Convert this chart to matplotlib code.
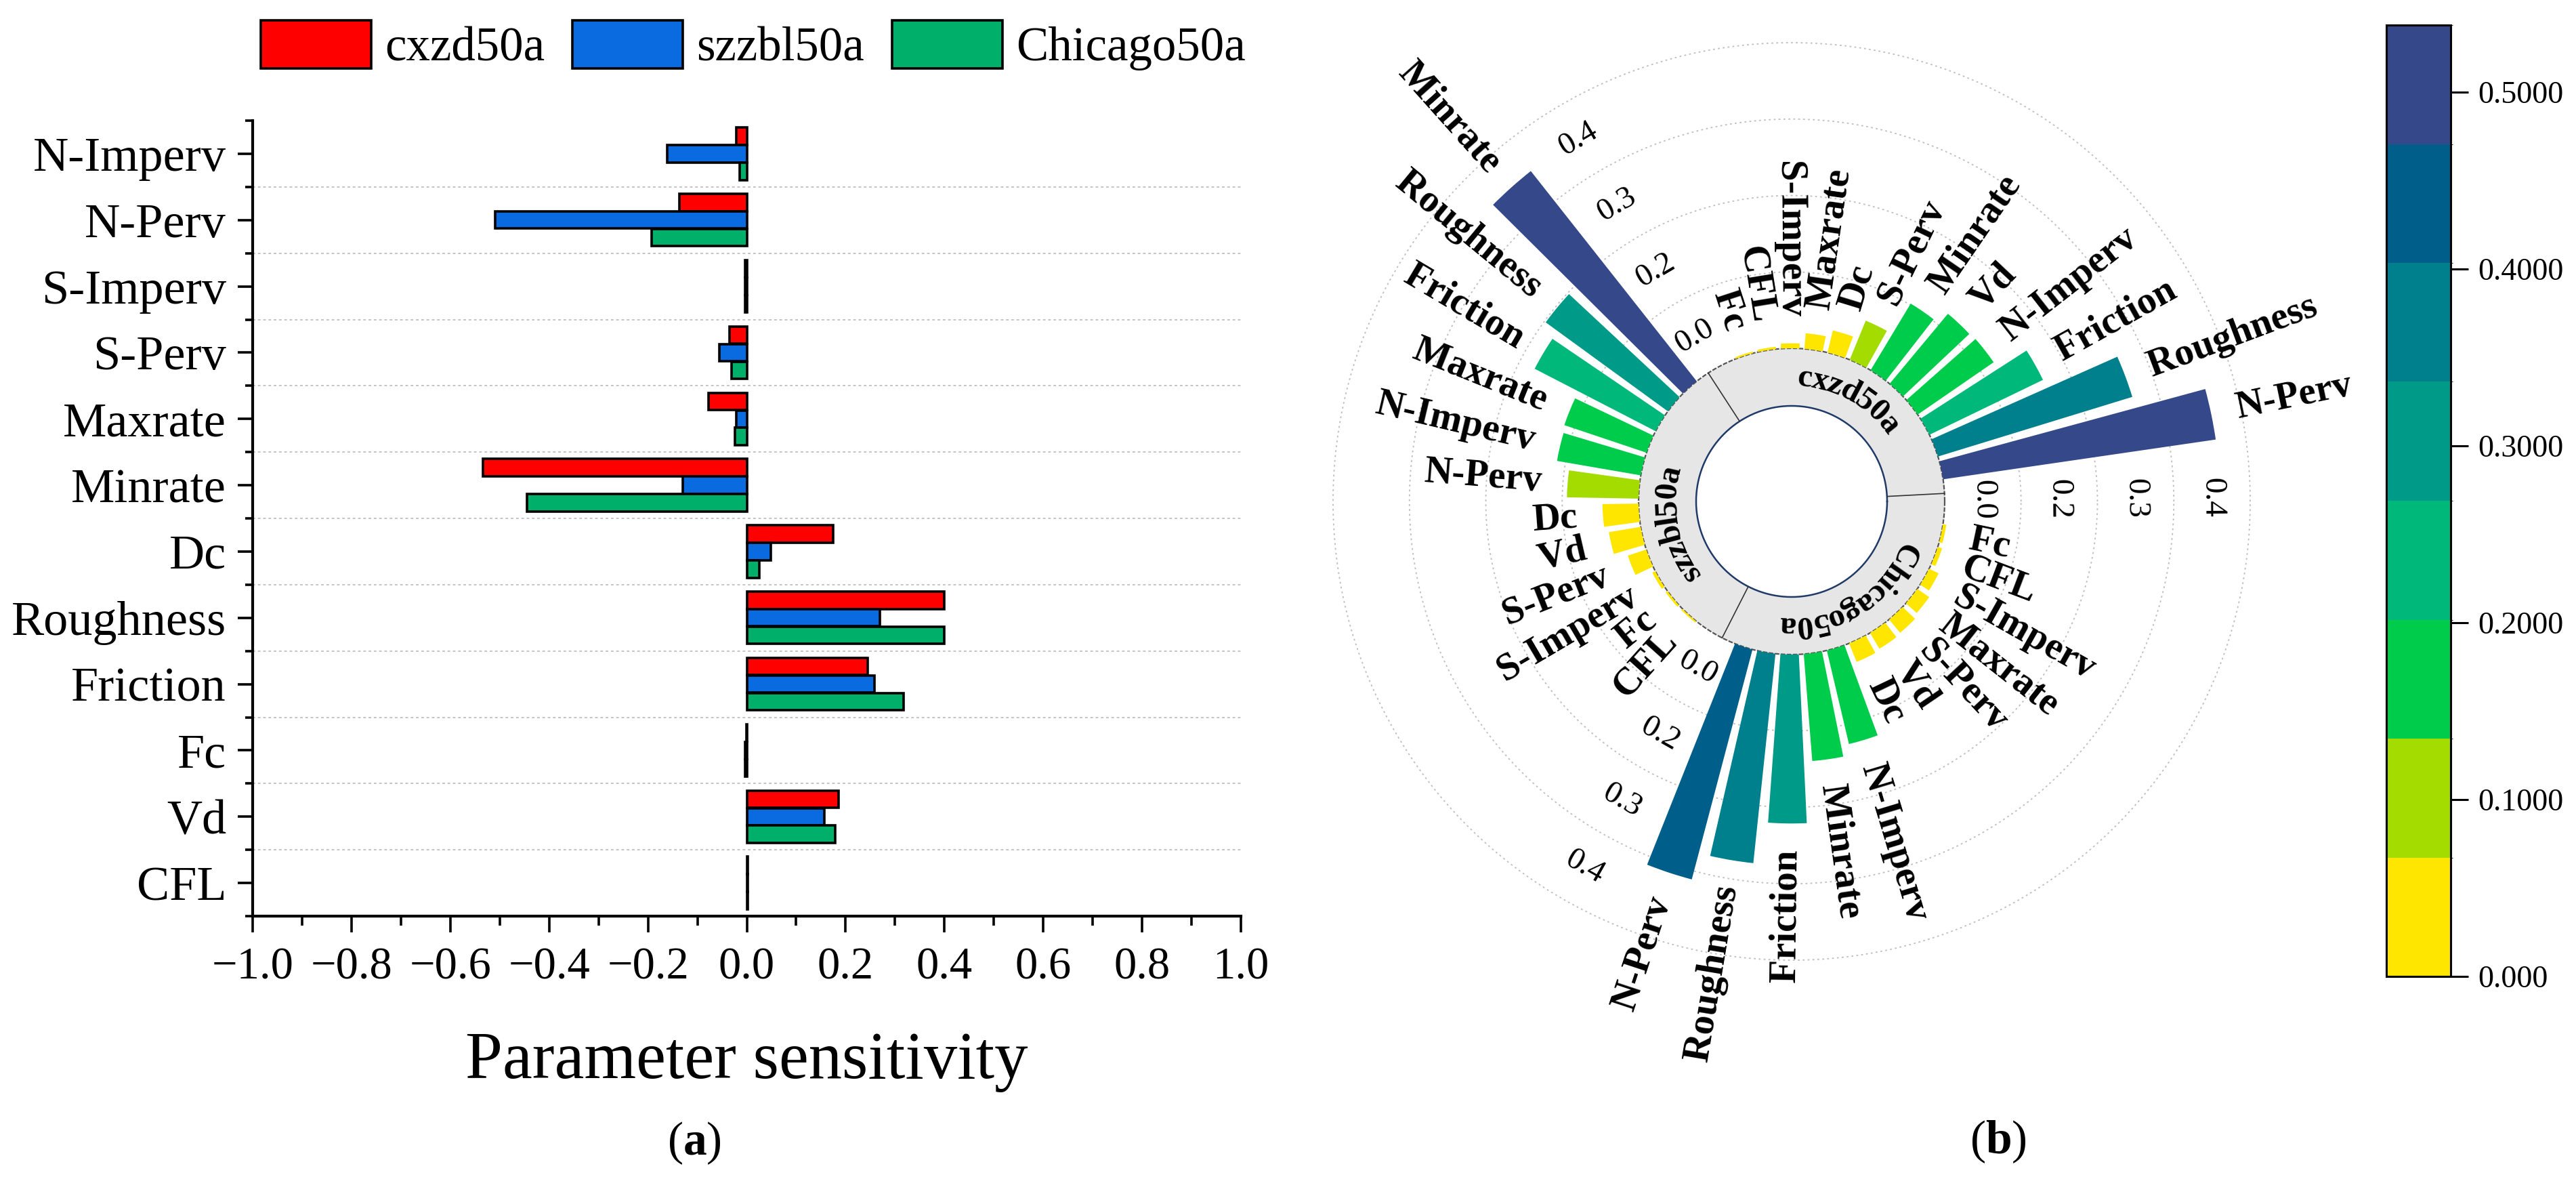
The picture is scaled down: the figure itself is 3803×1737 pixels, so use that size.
import numpy as np
import matplotlib
import matplotlib.pyplot as plt
from matplotlib.colors import ListedColormap, BoundaryNorm
from matplotlib.colorbar import ColorbarBase
from matplotlib.font_manager import FontProperties, findfont, get_font

plt.rcParams['font.family'] = ['Liberation Serif', 'DejaVu Serif']
plt.rcParams['mathtext.fontset'] = 'custom'
plt.rcParams['mathtext.rm'] = 'Liberation Serif'
plt.rcParams['mathtext.bf'] = 'Liberation Serif:bold'

# ---------------- panel (a): grouped horizontal bars ----------------
params = ["N-Imperv", "N-Perv", "S-Imperv", "S-Perv", "Maxrate", "Minrate",
          "Dc", "Roughness", "Friction", "Fc", "Vd", "CFL"]
cxzd50a = [-0.021, -0.137, -0.003, -0.035, -0.078, -0.534,
           0.175, 0.399, 0.245, -0.001, 0.186, 0.002]
szzbl50a = [-0.161, -0.509, -0.003, -0.056, -0.021, -0.129,
            0.049, 0.270, 0.259, -0.003, 0.157, 0.002]
chicago50a = [-0.014, -0.193, -0.003, -0.031, -0.024, -0.445,
              0.025, 0.399, 0.317, -0.003, 0.179, 0.002]
series_names = ["cxzd50a", "szzbl50a", "Chicago50a"]
series_colors = ["#FF0000", "#0A6BE0", "#00AF6A"]

# ---------------- panel (b): circular bars ----------------
sector_names = ["cxzd50a", "szzbl50a", "Chicago50a"]
cxzd_params = ["N-Perv", "Roughness", "Friction", "N-Imperv", "Vd", "Minrate",
               "S-Perv", "Dc", "Maxrate", "S-Imperv", "CFL", "Fc"]
cxzd_vals = [0.496, 0.366, 0.227, 0.166, 0.164, 0.140,
             0.076, 0.041, 0.028, 0.009, 0.004, 0.003]
szzbl_params = ["Minrate", "Roughness", "Friction", "Maxrate", "N-Imperv", "N-Perv",
                "Dc", "Vd", "S-Perv", "S-Imperv", "Fc", "CFL"]
szzbl_vals = [0.482, 0.272, 0.245, 0.156, 0.153, 0.129,
              0.065, 0.058, 0.035, 0.006, 0.004, 0.003]
chicago_params = ["N-Perv", "Roughness", "Friction", "Minrate", "N-Imperv", "Dc",
                  "Vd", "S-Perv", "Maxrate", "S-Imperv", "CFL", "Fc"]
chicago_vals = [0.428, 0.379, 0.304, 0.193, 0.173, 0.036,
                0.033, 0.031, 0.026, 0.019, 0.008, 0.006]
level_colors = ["#FFE600", "#A4DC00", "#00CC4C", "#00B87A",
                "#009A88", "#00808C", "#005F8A", "#35488A"]
cbar_max = 0.538
cbar_ticks = [0.0, 0.1, 0.2, 0.3, 0.4, 0.5]
cbar_labels = ["0.000", "0.1000", "0.2000", "0.3000", "0.4000", "0.5000"]
rtick_labels = ["0.0", "0.2", "0.3", "0.4"]

W, H = 3803, 1737
fig = plt.figure(figsize=(W / 100, H / 100), dpi=100)

# ---- (a)
ax = fig.add_axes([373 / W, 1 - 1352 / H, (1832 - 373) / W, (1352 - 178) / H])
y = np.arange(len(params))
for i, (vals, col, name) in enumerate(zip([cxzd50a, szzbl50a, chicago50a], series_colors, series_names)):
    ax.barh(y + (i - 1) * 0.265, vals, height=0.26, color=col, edgecolor="black",
            linewidth=2.6, label=name, zorder=3)
for b in np.arange(0.5, len(params) - 1):
    ax.axhline(b, color="#C4C4C4", ls=(0, (2, 2)), lw=1.4, zorder=1)
ax.set_xlim(-1, 1)
ax.set_ylim(len(params) - 0.5, -0.5)
ax.set_yticks(y)
ax.set_yticklabels(params)
ax.set_yticks(np.arange(-0.5, len(params)), minor=True)
xt = np.round(np.linspace(-1, 1, 11), 1)
ax.set_xticks(xt)
ax.set_xticklabels([("\u2212" if v < 0 else "") + f"{abs(v):.1f}" for v in xt])
ax.set_xticks(np.round(np.linspace(-1, 1, 21), 2), minor=True)
for s in ["top", "right"]:
    ax.spines[s].set_visible(False)
for s in ["left", "bottom"]:
    ax.spines[s].set_linewidth(3)
ax.tick_params(axis="y", which="major", length=16, width=2.6, labelsize=52, pad=12)
ax.tick_params(axis="y", which="minor", length=8, width=2.6)
ax.tick_params(axis="x", which="major", length=17, width=2.6, labelsize=48, pad=16)
ax.tick_params(axis="x", which="minor", length=10, width=2.6)
fig.text(1102 / W, 1 - 1591 / H, "Parameter sensitivity", fontsize=71, ha="center", va="baseline")
fig.text(1025 / W, 1 - 1704 / H, r"($\mathbf{a}$)", fontsize=50, ha="center", va="baseline")
h, l = ax.get_legend_handles_labels()
fig.legend(h, l, loc="center", bbox_to_anchor=(1112 / W, 1 - 67 / H), ncol=3, frameon=False,
           fontsize=51, handlelength=2.3, handleheight=1.17, handletextpad=0.28,
           columnspacing=0.58, borderpad=0)

# ---- (b)
cmap = ListedColormap(level_colors)
levels = np.linspace(0, cbar_max, len(level_colors) + 1)
norm = BoundaryNorm(levels, cmap.N)

cx, cy, R = 2645, 740, 685.2
hole, rmax = 0.2756, 0.56
pax = fig.add_axes([(cx - R) / W, 1 - (cy + R) / H, 2 * R / W, 2 * R / H], projection="polar")
pax.set_ylim(-hole, rmax)
pax.set_xticks([])
pax.set_yticks([])
pax.grid(False)
pax.spines["polar"].set_visible(False)
pax.patch.set_alpha(0)
k = R / (rmax + hole)  # pixels per data unit

full = np.linspace(0, 2 * np.pi, 721)
for g in np.linspace(0, 0.55, 5)[1:]:
    pax.plot(full, np.full_like(full, g), color="#BDBDBD", ls=(0, (1.5, 2.5)), lw=1.3, zorder=0)

r_white = 141 / k - hole
pax.fill_between(full, r_white, 0, color="#E6E6E6", lw=0, zorder=2)
pax.plot(full, np.zeros_like(full), color="#555555", lw=1.6, ls=(0, (3, 1)), zorder=3)
pax.plot(full, np.full_like(full, r_white), color="#1F3A68", lw=1.8, zorder=3)

starts = [3, 123, 243]
slot = 8.75
for s in starts:
    pax.plot([np.deg2rad(s)] * 2, [r_white, 0], color="#333333", lw=1.2, zorder=3)

groups = [(cxzd_params, cxzd_vals), (szzbl_params, szzbl_vals), (chicago_params, chicago_vals)]
for s, (names, vals) in zip(starts, groups):
    ang = s + slot * (np.arange(len(vals)) + 1)
    th = np.deg2rad(ang)
    pax.bar(th, vals, width=np.deg2rad(6.9), bottom=0, color=cmap(norm(vals)), lw=0, zorder=4)
    for a, t, v, n in zip(ang, th, vals, names):
        if 90 < a % 360 < 270:
            rot, ha = a - 180, "right"
        else:
            rot, ha = a, "left"
        pax.text(t, v + 0.046, n, rotation=rot, rotation_mode="anchor", ha=ha, va="center",
                 fontsize=41, fontweight="bold", zorder=5)
    # radial scale labels at the end of each sector
    ta = s + 117.5
    rot = ta - 90
    if 90 < rot % 360 < 270:
        rot -= 180
    grid_r = np.linspace(0, 0.55, 5)
    for lab, rr in zip(rtick_labels, (grid_r[:-1] + grid_r[1:]) / 2):
        pax.text(np.deg2rad(ta), rr, lab, rotation=rot, rotation_mode="anchor",
                 ha="center", va="center", fontsize=34, zorder=5)


def arc_text(text, center_deg, r, size):
    fp = FontProperties(family="Liberation Serif", weight="bold", size=size)
    font = get_font(findfont(fp))
    font.set_size(size, 72)
    adv = np.array([font.load_char(ord(c)).linearHoriAdvance / 65536 for c in text]) * fig.dpi / 72
    r_px = (r + hole) * k
    pos = np.cumsum(adv) - adv / 2 - adv.sum() / 2
    for c, p in zip(text, pos):
        phi = np.deg2rad(center_deg) - p / r_px
        pax.text(phi, r, c, rotation=np.rad2deg(phi) - 90, rotation_mode="anchor",
                 ha="center", va="center", fontproperties=fp, zorder=6)


r_mid = 183 / k - hole
for name, c in zip(sector_names, [61, 191, 302]):
    arc_text(name, c, r_mid, 35)

fig.text(2950 / W, 1 - 1702 / H, r"($\mathbf{b}$)", fontsize=50, ha="center", va="baseline")

cax = fig.add_axes([3523 / W, 1 - 1441 / H, 95 / W, 1404 / H])
cb = ColorbarBase(cax, cmap=cmap, norm=norm, boundaries=levels, spacing="proportional", ticks=cbar_ticks)
cb.set_ticklabels(cbar_labels)
cb.outline.set_linewidth(2.2)
cax.tick_params(length=19, width=2.2, labelsize=33, pad=10)

fig.savefig("out.png", dpi=100)
